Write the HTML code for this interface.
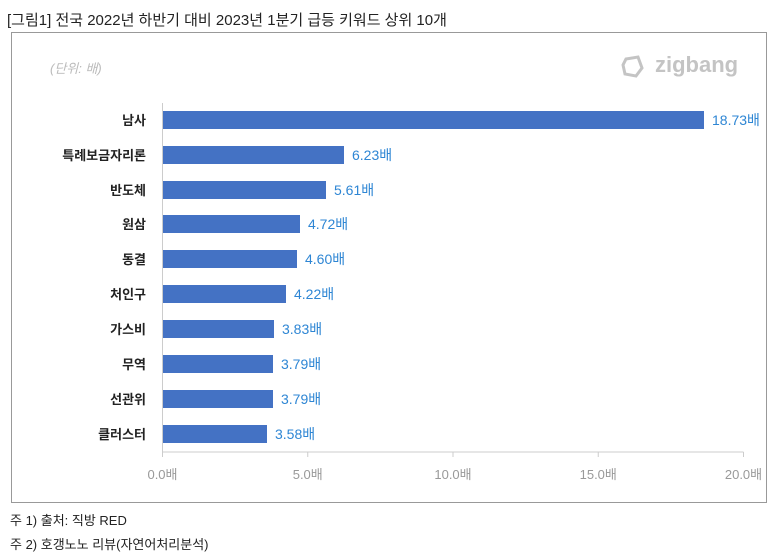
<!DOCTYPE html>
<html><head><meta charset="utf-8"><style>
body{margin:0;background:#fff;width:779px;height:558px;position:relative;overflow:hidden;font-family:"Liberation Sans","Noto Sans CJK KR",sans-serif}
.a{position:absolute;white-space:nowrap}
</style></head><body>
<div class="a" style="left:7px;top:9px;font-size:15px;color:#222">[그림1] 전국 2022년 하반기 대비 2023년 1분기 급등 키워드 상위 10개</div>
<div class="a" style="left:11px;top:32px;width:756px;height:471px;border:1px solid #999;box-sizing:border-box"></div>
<div class="a" style="left:50px;top:58px;font-size:13px;color:#bbb;font-style:italic">(단위: 배)</div>
<svg class="a" style="left:620px;top:54px" width="130" height="26"><path d="M6 5 L18 3 L22 14 L16 22 L5 20 L3 11 Z" fill="none" stroke="#c4c4c4" stroke-width="3"/></svg>
<div class="a" style="left:655px;top:52px;font-size:22px;color:#c4c4c4;font-weight:bold">zigbang</div>
<svg class="a" style="left:0;top:0" width="779" height="558" font-family="Liberation Sans,Noto Sans CJK KR,sans-serif">
<g stroke="#ccc"><line x1="162.5" y1="103" x2="162.5" y2="452"/><line x1="162.5" y1="452" x2="743.5" y2="452"/>
<line x1="162.5" y1="452" x2="162.5" y2="457"/><line x1="307.75" y1="452" x2="307.75" y2="457"/><line x1="453" y1="452" x2="453" y2="457"/><line x1="598.25" y1="452" x2="598.25" y2="457"/><line x1="743.5" y1="452" x2="743.5" y2="457"/></g>
<g font-size="13" fill="#999" text-anchor="middle"><text x="162.5" y="479">0.0배</text><text x="307.75" y="479">5.0배</text><text x="453" y="479">10.0배</text><text x="598.25" y="479">15.0배</text><text x="743.5" y="479">20.0배</text></g>
<g font-size="13" font-weight="bold" fill="#222" text-anchor="end">
<text x="146" y="125">남사</text><text x="146" y="160">특례보금자리론</text><text x="146" y="195">반도체</text><text x="146" y="229">원삼</text><text x="146" y="264">동결</text><text x="146" y="299">처인구</text><text x="146" y="334">가스비</text><text x="146" y="369">무역</text><text x="146" y="404">선관위</text><text x="146" y="439">클러스터</text></g>
<g fill="#4472c4">
<rect x="163" y="111" width="541" height="18"/><rect x="163" y="146" width="181" height="18"/><rect x="163" y="181" width="163" height="18"/><rect x="163" y="215" width="137" height="18"/><rect x="163" y="250" width="134" height="18"/><rect x="163" y="285" width="123" height="18"/><rect x="163" y="320" width="111" height="18"/><rect x="163" y="355" width="110" height="18"/><rect x="163" y="390" width="110" height="18"/><rect x="163" y="425" width="104" height="18"/></g>
<g font-size="14" fill="#2e86d4">
<text x="712" y="125">18.73배</text><text x="352" y="160">6.23배</text><text x="334" y="195">5.61배</text><text x="308" y="229">4.72배</text><text x="305" y="264">4.60배</text><text x="294" y="299">4.22배</text><text x="282" y="334">3.83배</text><text x="281" y="369">3.79배</text><text x="281" y="404">3.79배</text><text x="275" y="439">3.58배</text></g>
</svg>
<div class="a" style="left:10px;top:510px;font-size:13px;color:#222">주 1) 출처: 직방 RED</div>
<div class="a" style="left:10px;top:534px;font-size:13px;color:#222">주 2) 호갱노노 리뷰(자연어처리분석)</div>
</body></html>
